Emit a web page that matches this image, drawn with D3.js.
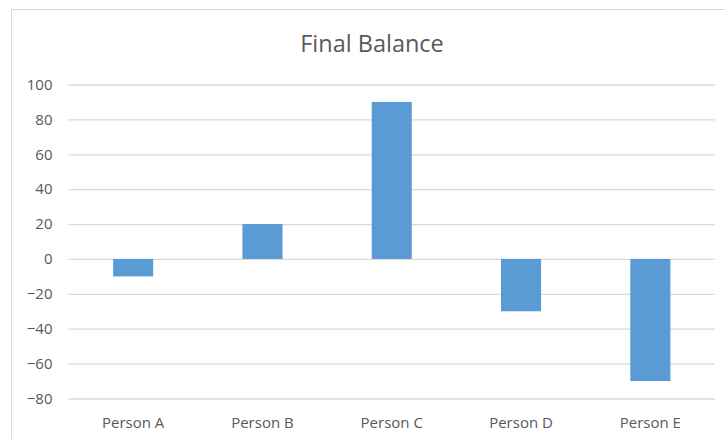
<!DOCTYPE html>
<html>
<head>
<meta charset="utf-8">
<script src="https://cdn.jsdelivr.net/npm/d3@7"></script>
<style>
  body { margin: 0; background: #fff; }
  text { font-family: "Open Sans", "Noto Sans", sans-serif; fill: #595959; }
</style>
</head>
<body>
<div class="canvas"></div>
<script>
// data
var people = ["Person A", "Person B", "Person C", "Person D", "Person E"];
var balance = [-10, 20, 90, -30, -70];
var yTicks = [-80, -60, -40, -20, 0, 20, 40, 60, 80, 100];

var svgWidth = 725, svgHeight = 439;
var plotLeft = 68.5, plotRight = 715, plotTop = 84.5, plotBottom = 398.5;

const svg = d3.select(".canvas").append("svg")
    .attr("width", svgWidth)
    .attr("height", svgHeight);

// chart frame
svg.append("rect")
    .attr("x", 11.5).attr("y", 9.5)
    .attr("width", 730).attr("height", 440)
    .attr("fill", "white")
    .attr("stroke", "#d9d9d9")
    .attr("stroke-width", 1);

var x = d3.scaleBand()
    .domain(people)
    .range([plotLeft, plotRight])
    .paddingInner(0.69)
    .paddingOuter(0.345);

var y = d3.scaleLinear()
    .domain([-80, 100])
    .range([plotBottom, plotTop]);

// gridlines + tick labels
var yAxis = svg.append("g")
    .attr("transform", "translate(" + plotLeft + ",0)")
    .call(d3.axisLeft(y).tickValues(yTicks).tickSize(-(plotRight - plotLeft)).tickPadding(16));
yAxis.select(".domain").remove();
yAxis.selectAll("line").attr("stroke", "#d9d9d9").attr("stroke-width", 1.3);
yAxis.selectAll("text")
    .attr("font-size", "15px")
    .attr("font-family", "Open Sans")
    .attr("fill", "#595959");

// bars
svg.selectAll("rect.bar")
    .data(balance)
    .enter().append("rect")
    .attr("class", "bar")
    .attr("x", function(d, i) { return x(people[i]); })
    .attr("width", x.bandwidth())
    .attr("y", function(d) { return y(Math.max(0, d)); })
    .attr("height", function(d) { return Math.abs(y(d) - y(0)); })
    .attr("fill", "#5b9bd5");

// category labels
svg.selectAll("text.cat")
    .data(people)
    .enter().append("text")
    .attr("class", "cat")
    .attr("x", function(d) { return x(d) + x.bandwidth() / 2; })
    .attr("y", 428)
    .attr("text-anchor", "middle")
    .attr("font-size", "15px")
    .text(function(d) { return d; });

// title
svg.append("text")
    .attr("x", 372)
    .attr("y", 52)
    .attr("text-anchor", "middle")
    .attr("font-size", "23.5px")
    .text("Final Balance");
</script>
</body>
</html>
